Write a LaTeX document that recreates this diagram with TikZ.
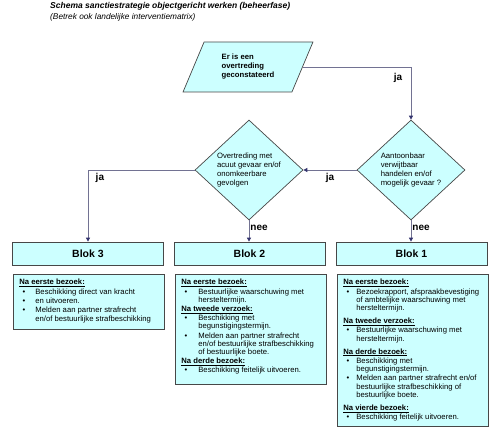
\documentclass[tikz,border=0pt]{standalone}
\usepackage{fontspec}
\setmainfont{Liberation Sans}
\usetikzlibrary{positioning}
\usetikzlibrary{arrows.meta,shapes.geometric}

\definecolor{vulling}{HTML}{CCFFFF}
\definecolor{rand}{HTML}{474747}
\definecolor{lijn}{HTML}{727292}
\definecolor{punt}{HTML}{34346E}

\newlength{\inspring}
\newlength{\kopruimte}
\newcommand{\kop}[2][\kopruimte]{\par\vspace{#1}\noindent\underline{\textbf{#2}}\par}
\newcommand{\opsom}[1]{\par\vspace{1pt}\hangindent=\inspring\hangafter=0\noindent
  \makebox[0pt][r]{\textbullet\hspace{\dimexpr\inspring-6pt\relax}}{\let\\\newline#1}\par}
\newcommand{\vaktekst}[4]{\parbox[t][#1][t]{139pt}{\raggedright
  \setlength{\inspring}{#2}\setlength{\kopruimte}{#3}#4}}

\begin{document}
\begin{tikzpicture}[x=1pt,y=-1pt,
    vak/.style={draw=rand,fill=vulling,line width=0.7pt},
    keuze/.style={vak,diamond,aspect=1.08,inner sep=0pt,minimum width=108pt,minimum height=100pt,
        align=left,font=\fontsize{7.7}{8.7}\selectfont},
    blok/.style={vak,minimum width=151pt,minimum height=23pt,font=\bfseries\fontsize{10.5}{12}\selectfont},
    detail/.style={vak,anchor=north west,inner xsep=6pt,inner ysep=5pt,font=\fontsize{7.7}{8.3}\selectfont},
    pijl/.style={draw=lijn,line width=0.8pt,-{Triangle[length=4pt,width=4pt,color=punt]}},
    antw/.style={font=\bfseries\fontsize{10}{12}\selectfont}]
    \useasboundingbox (0,0) rectangle (504,433);

    % titel
    \node[anchor=base west,inner sep=0pt,font=\bfseries\itshape\fontsize{8.5}{10}\selectfont] (titel) at (50,9)
        {Schema sanctiestrategie objectgericht werken (beheerfase)};
    \node[anchor=base west,inner sep=0pt,font=\itshape\fontsize{8.3}{10}\selectfont] (sub) at (50,20)
        {(Betrek ook landelijke interventiematrix)};

    % vraagstappen
    \node[vak,trapezium,trapezium left angle=66,trapezium right angle=114,trapezium stretches=true,
        minimum width=130pt,minimum height=50pt,align=left,font=\bfseries\fontsize{7.7}{9}\selectfont]
        (start) at (248,67) {Er is een\\overtreding\\geconstateerd};
    \node[keuze] (verwijt) at (411,170) {Aantoonbaar\\verwijtbaar\\handelen en/of\\mogelijk gevaar ?};
    \node[keuze] (acuut) at (249,170) {Overtreding met\\acuut gevaar en/of\\onomkeerbare\\gevolgen};

    % blokken
    \node[blok] (blok3) at (88,253.5) {Blok 3};
    \node[blok] (blok2) at (249.5,253.5) {Blok 2};
    \node[blok] (blok1) at (411.5,253.5) {Blok 1};

    \node[detail] (info3) at (13,274) {\vaktekst{45pt}{16pt}{0pt}{%
        \kop[0pt]{Na eerste bezoek:}
        \opsom{Beschikking direct van kracht}
        \opsom{en uitvoeren.}
        \opsom{Melden aan partner strafrecht\\en/of bestuurlijke strafbeschikking}}};
    \node[detail] (info2) at (175,274) {\vaktekst{100pt}{17pt}{0.5pt}{%
        \kop[0pt]{Na eerste bezoek:}
        \opsom{Bestuurlijke waarschuwing met\\herstel\-termijn.}
        \kop{Na tweede verzoek:}
        \opsom{Beschikking met\\begunstigingstermijn.}
        \opsom{Melden aan partner strafrecht\\en/of bestuurlijke strafbeschikking\\of bestuurlijke boete.}
        \kop{Na derde bezoek:}
        \opsom{Beschikking feitelijk uitvoeren.}}};
    \node[detail] (info1) at (337,274) {\vaktekst{142pt}{13pt}{4.5pt}{%
        \kop[0pt]{Na eerste bezoek:}
        \opsom{Bezoekrapport, afspraakbevestiging\\of ambtelijke waarschuwing met\\herstel\-termijn.}
        \kop{Na tweede verzoek:}
        \opsom{Bestuurlijke waarschuwing met\\herstel\-termijn.}
        \kop{Na derde bezoek:}
        \opsom{Beschikking met\\begunstigingstermijn.}
        \opsom{Melden aan partner strafrecht en/of\\bestuurlijke strafbeschikking of\\bestuurlijke boete.}
        \kop{Na vierde bezoek:}
        \opsom{Beschikking feitelijk uitvoeren.}}};

    %Lijnen
    \draw[pijl] (start.east) -| node[antw,pos=0.6,left=5pt] {ja} (verwijt.north);
    \draw[pijl] (verwijt.west) -- node[antw,below] {ja} (acuut.east);
    \draw[pijl] (acuut.west) -| node[antw,pos=0.5,anchor=north west,xshift=4pt] {ja} (blok3.north);
    \draw[pijl] (acuut.south) -- node[antw,pos=0.35,right,inner xsep=1pt] {nee} (acuut.south |- blok2.north);
    \draw[pijl] (verwijt.south) -- node[antw,pos=0.35,right,inner xsep=1pt] {nee} (verwijt.south |- blok1.north);
\end{tikzpicture}
\end{document}
